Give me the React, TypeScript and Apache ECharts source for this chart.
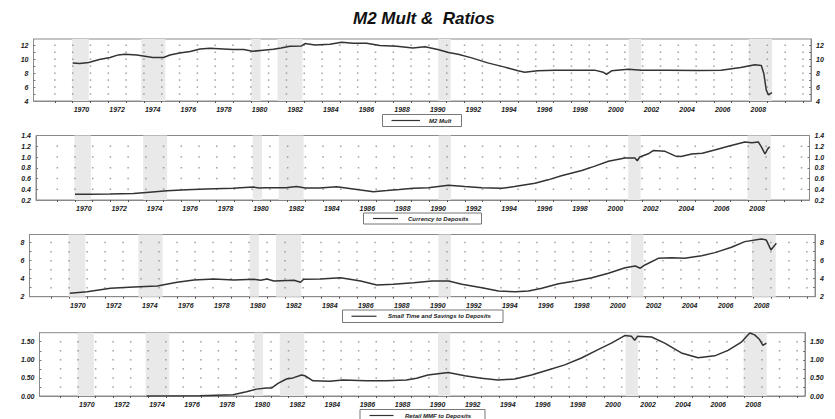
import React, { useEffect, useRef } from "react";
import * as echarts from "echarts";

// ---------- data ----------
const xMin = 1967.8;
const xMax = 2011.45;

const tickYears = [
  1969, 1970, 1971, 1972, 1973, 1974, 1975, 1976, 1977, 1978, 1979, 1980, 1981, 1982, 1983,
  1984, 1985, 1986, 1987, 1988, 1989, 1990, 1991, 1992, 1993, 1994, 1995, 1996, 1997, 1998,
  1999, 2000, 2001, 2002, 2003, 2004, 2005, 2006, 2007, 2008, 2009, 2010, 2011,
];
const labelYears = [
  1970, 1972, 1974, 1976, 1978, 1980, 1982, 1984, 1986, 1988, 1990, 1992, 1994, 1996, 1998,
  2000, 2002, 2004, 2006, 2008,
];

const recessions: [number, number][] = [
  [1969.97, 1970.9],
  [1973.85, 1975.2],
  [1980.03, 1980.55],
  [1981.5, 1982.9],
  [1990.52, 1991.22],
  [2001.22, 2001.92],
  [2007.95, 2009.27],
];

const m2Mult: [number, number][] = [
  [1970.0, 9.47], [1970.4, 9.39], [1970.9, 9.53], [1971.5, 9.96], [1972.1, 10.24],
  [1972.56, 10.62], [1972.93, 10.7], [1973.6, 10.6], [1973.96, 10.47], [1974.5, 10.24],
  [1975.1, 10.24], [1975.46, 10.6], [1976.0, 10.9], [1976.6, 11.1], [1977.15, 11.47],
  [1977.7, 11.57], [1978.45, 11.47], [1979.0, 11.38], [1979.6, 11.38], [1980.1, 11.14],
  [1980.7, 11.29], [1981.26, 11.43], [1981.7, 11.62], [1982.2, 11.86], [1982.85, 11.9],
  [1983.04, 12.24], [1983.6, 12.04], [1984.44, 12.14], [1985.1, 12.43], [1985.75, 12.29],
  [1986.5, 12.29], [1987.24, 11.96], [1988.2, 11.86], [1989.1, 11.6], [1989.77, 11.8],
  [1990.5, 11.38], [1991.1, 10.96], [1991.64, 10.71], [1992.4, 10.19], [1993.3, 9.47],
  [1994.26, 8.86], [1995.0, 8.33], [1995.38, 8.14], [1996.1, 8.33], [1997.07, 8.43],
  [1998.2, 8.43], [1999.3, 8.43], [1999.78, 8.14], [1999.97, 7.81], [2000.25, 8.33],
  [2001.2, 8.57], [2001.93, 8.43], [2003.4, 8.43], [2005.1, 8.38], [2006.4, 8.43],
  [2007.5, 8.81], [2008.3, 9.19], [2008.66, 9.1], [2008.8, 7.96], [2008.94, 5.57],
  [2009.07, 4.86], [2009.18, 5.1], [2009.26, 5.19],
];

const currencyToDeposits: [number, number][] = [
  [1970.0, 0.307], [1970.85, 0.307], [1971.97, 0.31], [1973.3, 0.32], [1974.2, 0.345],
  [1975.2, 0.37], [1976.3, 0.39], [1977.4, 0.405], [1978.9, 0.42], [1980.06, 0.44],
  [1980.4, 0.425], [1980.8, 0.43], [1981.9, 0.43], [1982.5, 0.45], [1983.0, 0.425],
  [1983.8, 0.425], [1984.77, 0.445], [1985.7, 0.405], [1986.84, 0.355], [1987.6, 0.375],
  [1988.3, 0.395], [1989.1, 0.42], [1989.94, 0.43], [1991.07, 0.475], [1992.0, 0.45],
  [1992.96, 0.43], [1994.1, 0.42], [1994.8, 0.45], [1995.96, 0.51], [1996.7, 0.575],
  [1997.45, 0.65], [1998.6, 0.75], [1999.3, 0.825], [2000.1, 0.92], [2001.04, 0.98],
  [2001.6, 0.98], [2001.73, 0.93], [2001.87, 1.0], [2002.35, 1.06], [2002.63, 1.12],
  [2003.3, 1.105], [2003.86, 1.02], [2004.2, 1.01], [2004.8, 1.055], [2005.4, 1.07],
  [2006.1, 1.13], [2006.87, 1.2], [2007.8, 1.28], [2008.2, 1.265], [2008.56, 1.28],
  [2008.75, 1.18], [2008.94, 1.056], [2009.1, 1.156], [2009.2, 1.19],
];

const smallTimeSavings: [number, number][] = [
  [1970.04, 2.38], [1971.0, 2.56], [1972.3, 2.93], [1973.6, 3.08], [1974.9, 3.19],
  [1976.0, 3.6], [1976.94, 3.86], [1978.05, 3.97], [1979.16, 3.86], [1980.27, 3.93],
  [1980.64, 3.82], [1981.0, 3.97], [1981.38, 3.74], [1982.5, 3.82], [1982.86, 3.6],
  [1983.04, 3.93], [1983.97, 3.97], [1985.08, 4.11], [1986.2, 3.74], [1987.1, 3.3],
  [1988.0, 3.38], [1989.15, 3.56], [1990.17, 3.74], [1991.09, 3.74], [1991.83, 3.38],
  [1992.94, 3.0], [1993.86, 2.63], [1994.79, 2.56], [1995.53, 2.63], [1996.27, 2.93],
  [1997.2, 3.44], [1998.12, 3.74], [1999.05, 4.11], [1999.97, 4.6], [2000.9, 5.22],
  [2001.46, 5.41], [2001.74, 5.16], [2002.0, 5.52], [2002.74, 6.26], [2003.48, 6.33],
  [2004.2, 6.26], [2005.15, 6.55], [2005.89, 6.89], [2006.81, 7.49], [2007.55, 8.11],
  [2008.46, 8.41], [2008.74, 8.3], [2009.0, 7.19], [2009.2, 7.67], [2009.3, 7.93],
];

const retailMmf: [number, number][] = [
  [1973.9, 0.0], [1976.94, 0.01], [1978.84, 0.035], [1979.6, 0.12], [1980.17, 0.19],
  [1980.74, 0.22], [1981.03, 0.22], [1981.4, 0.35], [1981.88, 0.47], [1982.26, 0.5],
  [1982.74, 0.58], [1982.93, 0.56], [1983.4, 0.42], [1984.35, 0.41], [1985.1, 0.44],
  [1986.44, 0.425], [1987.58, 0.425], [1988.72, 0.44], [1989.3, 0.49], [1989.95, 0.58],
  [1991.1, 0.65], [1992.05, 0.56], [1993.0, 0.49], [1993.94, 0.44], [1994.9, 0.47],
  [1995.85, 0.58], [1996.8, 0.72], [1997.75, 0.86], [1998.7, 1.05], [1999.65, 1.28],
  [2000.41, 1.46], [2001.17, 1.67], [2001.55, 1.65], [2001.74, 1.54], [2001.9, 1.65],
  [2002.7, 1.63], [2003.45, 1.46], [2004.4, 1.19], [2005.35, 1.06], [2006.3, 1.11],
  [2007.06, 1.26], [2007.8, 1.48], [2008.3, 1.74], [2008.58, 1.69], [2008.86, 1.56],
  [2009.05, 1.4], [2009.25, 1.46],
];

const m2Ticks = [4, 6, 8, 10, 12];
const m2Rows = [5, 6, 7, 8, 9, 10, 11, 12];
const currTicks = [0.2, 0.4, 0.6, 0.8, 1.0, 1.2, 1.4];
const currRows = [0.4, 0.6, 0.8, 1.0, 1.2];
const stsTicks = [2, 4, 6, 8];
const stsRows = [3, 4, 5, 6, 7, 8];
const mmfTicks = [0, 0.5, 1.0, 1.5];
const mmfRows = [0.25, 0.5, 0.75, 1.0, 1.25, 1.5];

const titleText = "M2 Mult &  Ratios";
const seriesNames = [
  "M2 Mult",
  "Currency to Deposits",
  "Small Time and Savings to Deposits",
  "Retail MMF to Deposits",
];

// ---------- layout ----------
const FONT = "'Liberation Sans', Arial, sans-serif";

const panels = [
  {
    data: m2Mult, ticks: m2Ticks, rows: m2Rows, min: 4, max: 12.9, dec: 0,
    grid: { left: 33.5, right: 24, top: 39, height: 62 },
    legend: { x: 382.5, y: 114.5, w: 79, h: 12, lx1: 391.5, lx2: 420, tx: 429 },
  },
  {
    data: currencyToDeposits, ticks: currTicks, rows: currRows, min: 0.2, max: 1.4, dec: 1,
    grid: { left: 36, right: 25.5, top: 135.5, height: 64.5 },
    legend: { x: 363.5, y: 213, w: 118, h: 11, lx1: 373, lx2: 398, tx: 408 },
  },
  {
    data: smallTimeSavings, ticks: stsTicks, rows: stsRows, min: 2, max: 8.9, dec: 0,
    grid: { left: 29.5, right: 20, top: 234.5, height: 62.2 },
    legend: { x: 342.5, y: 310, w: 160.5, h: 12.5, lx1: 351.5, lx2: 376.5, tx: 388 },
  },
  {
    data: retailMmf, ticks: mmfTicks, rows: mmfRows, min: 0, max: 1.75, dec: 2,
    grid: { left: 39.5, right: 30, top: 332.7, height: 63.3 },
    legend: { x: 360, y: 409.5, w: 125, h: 12, lx1: 369.5, lx2: 393.5, tx: 405 },
  },
];

const labelStyle = {
  fontSize: 7,
  fontStyle: "italic" as const,
  fontWeight: "bold" as const,
  fontFamily: FONT,
  color: "#1a1a1a",
};

function buildOption() {
  const grids: any[] = [];
  const xAxes: any[] = [];
  const yAxes: any[] = [];
  const series: any[] = [];
  const graphics: any[] = [];

  panels.forEach((p, i) => {
    grids.push({
      ...p.grid,
      show: true,
      borderColor: "#8a8a8a",
      borderWidth: 1,
      backgroundColor: "transparent",
    });
    xAxes.push({
      gridIndex: i,
      type: "value",
      min: xMin,
      max: xMax,
      axisLine: { show: true, lineStyle: { color: "#8a8a8a", width: 1 } },
      axisTick: {
        show: true,
        customValues: tickYears,
        length: 2,
        lineStyle: { color: "#555" },
      },
      axisLabel: {
        ...labelStyle,
        customValues: labelYears,
        align: "left",
        padding: [0, 0, 0, 1],
        margin: 5,
        formatter: (v: number) => String(Math.round(v)),
      },
      splitLine: { show: false },
    });
    const yBase = {
      gridIndex: i,
      type: "value",
      min: p.min,
      max: p.max,
      axisLine: { show: true, lineStyle: { color: "#8a8a8a", width: 1 } },
      axisTick: {
        show: true,
        inside: true,
        length: 2,
        customValues: p.rows,
        lineStyle: { color: "#777" },
      },
      splitLine: { show: false },
    };
    yAxes.push({
      ...yBase,
      position: "left",
      axisLabel: {
        ...labelStyle,
        customValues: p.ticks,
        margin: 5,
        formatter: (v: number) => v.toFixed(p.dec),
      },
    });
    yAxes.push({
      ...yBase,
      position: "right",
      axisLabel: {
        ...labelStyle,
        customValues: p.ticks,
        margin: 5,
        formatter: (v: number) => v.toFixed(p.dec),
      },
    });

    // recession shading
    series.push({
      type: "line",
      xAxisIndex: i,
      yAxisIndex: i * 2,
      data: [[p.data[0][0], p.data[0][1]]],
      showSymbol: false,
      silent: true,
      z: 1,
      lineStyle: { opacity: 0 },
      markArea: {
        silent: true,
        itemStyle: { color: "#e9e9e9" },
        data: recessions.map(([a, b]) => [{ xAxis: a }, { xAxis: b }]),
      },
    });

    // dotted grid
    const dots: number[][] = [];
    tickYears.forEach((yr) => p.rows.forEach((r) => dots.push([yr, r])));
    series.push({
      type: "scatter",
      xAxisIndex: i,
      yAxisIndex: i * 2,
      data: dots,
      symbol: "rect",
      symbolSize: 1.5,
      silent: true,
      z: 2,
      itemStyle: { color: "#888" },
    });

    // main line
    series.push({
      type: "line",
      name: seriesNames[i],
      xAxisIndex: i,
      yAxisIndex: i * 2,
      data: p.data,
      showSymbol: false,
      z: 3,
      lineStyle: { color: "#333", width: 1.5 },
    });

    // legend box
    const L = p.legend;
    const cy = L.y + L.h / 2;
    graphics.push({
      type: "rect",
      shape: { x: L.x, y: L.y, width: L.w, height: L.h },
      style: { fill: "#fff", stroke: "#777", lineWidth: 1 },
      silent: true,
    });
    graphics.push({
      type: "line",
      shape: { x1: L.lx1, y1: cy, x2: L.lx2, y2: cy },
      style: { stroke: "#333", lineWidth: 1.2 },
      silent: true,
    });
    graphics.push({
      type: "text",
      x: L.tx,
      y: cy,
      style: {
        text: seriesNames[i],
        fontSize: 6,
        fontStyle: "italic",
        fontWeight: "bold",
        fontFamily: FONT,
        fill: "#222",
        verticalAlign: "middle",
        align: "left",
      },
      silent: true,
    });
  });

  return {
    animation: false,
    backgroundColor: "#fff",
    title: {
      text: titleText,
      left: 348,
      top: 5,
      textStyle: {
        fontSize: 17,
        fontWeight: "bold",
        fontStyle: "italic",
        fontFamily: FONT,
        color: "#111",
      },
    },
    grid: grids,
    xAxis: xAxes,
    yAxis: yAxes,
    series,
    graphic: graphics,
  };
}

export default function App() {
  const ref = useRef<HTMLDivElement>(null);
  useEffect(() => {
    document.body.style.margin = "0";
    if (!ref.current) return;
    const chart = echarts.init(ref.current, undefined, { renderer: "svg" });
    chart.setOption(buildOption() as any);
    return () => chart.dispose();
  }, []);
  return (
    <div
      ref={ref}
      style={{ position: "fixed", left: 0, top: 0, width: 835, height: 419 }}
    />
  );
}
